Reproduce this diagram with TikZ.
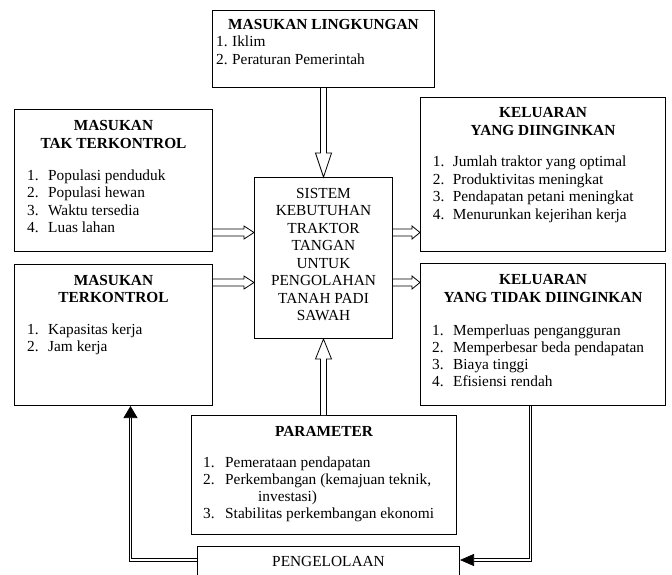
\documentclass[tikz,border=0pt]{standalone}
\usepackage{fontspec}
\setmainfont{Liberation Serif}
\usetikzlibrary{positioning, arrows.meta, calc}

% hollow block arrow: start, end, shaft half width, head half width, head length
\newcommand{\blockarrow}[5]{%
  \coordinate (ba-base) at ($(#2)!#5!(#1)$);
  \draw[hollow] ($(#1)!#3!90:(#2)$) -- ($(ba-base)!#3!90:(#2)$)
    -- ($(ba-base)!#4!90:(#2)$) -- (#2) -- ($(ba-base)!#4!-90:(#2)$)
    -- ($(ba-base)!#3!-90:(#2)$) -- ($(#1)!#3!-90:(#2)$);
}

\begin{document}
\begin{tikzpicture}[
  x=1pt, y=-1pt,
  font=\fontsize{15.35}{17.5}\selectfont,
  box/.style={draw, line width=1pt, anchor=north west, inner sep=0pt},
  head/.style={font=\fontsize{15.35}{17.5}\selectfont\bfseries, anchor=base,
               inner sep=0pt},
  item/.style={anchor=base west, inner sep=0pt},
  hollow/.style={line width=0.8pt, fill=white, line join=miter},
  fb/.style={double, double distance=1.6pt, line width=0.75pt}
]
\useasboundingbox (0,0) rectangle (672,574);
\clip (0,0) rectangle (672,574);

% Boxes
\node[box, minimum width=222, minimum height=77] (lingk) at (212,10) {};
\node[box, minimum width=198, minimum height=142] (tak) at (14,109) {};
\node[box, minimum width=198, minimum height=141] (terk) at (14,264) {};
\node[box, minimum width=138, minimum height=161] (sys) at (254,177) {};
\node[box, minimum width=245, minimum height=154] (kel1) at (420,97) {};
\node[box, minimum width=245, minimum height=142] (kel2) at (420,263) {};
\node[box, minimum width=265, minimum height=119] (param) at (191,415) {};
\node[box, minimum width=262, minimum height=40] (peng) at (197,546) {};

% Environment input
\node[head] (lingk-h) at ([yshift=-19]lingk.north) {MASUKAN LINGKUNGAN};
\foreach \txt [count=\i] in {Iklim, Peraturan Pemerintah}
  \node[item] (lingk-\i) at ([xshift=4, yshift={-36.7-17.4*(\i-1)}]lingk.north west)
    {\makebox[16pt][l]{\i.}\txt};

% Uncontrolled input
\node[head] (tak-h1) at ([yshift=-21]tak.north) {MASUKAN};
\node[head] (tak-h2) at ([yshift=-39]tak.north) {TAK TERKONTROL};
\foreach \txt [count=\i] in {Populasi penduduk, Populasi hewan,
                             Waktu tersedia, Luas lahan}
  \node[item] (tak-\i) at ([xshift=13, yshift={-71-17.5*(\i-1)}]tak.north west)
    {\makebox[21pt][l]{\i.}\txt};

% Controlled input
\node[head] (terk-h1) at ([yshift=-21]terk.north) {MASUKAN};
\node[head] (terk-h2) at ([yshift=-38.5]terk.north) {TERKONTROL};
\foreach \txt [count=\i] in {Kapasitas kerja, Jam kerja}
  \node[item] (terk-\i) at ([xshift=13, yshift={-70-17.5*(\i-1)}]terk.north west)
    {\makebox[21pt][l]{\i.}\txt};

% System
\node[align=center, inner sep=0pt, font=\fontsize{15.35}{17.43}\selectfont]
  (sys-t) at ([yshift=3.5]sys.center)
  {SISTEM\\KEBUTUHAN\\TRAKTOR\\TANGAN\\UNTUK\\PENGOLAHAN\\TANAH PADI\\SAWAH};

% Desired output
\node[head] (kel1-h1) at ([yshift=-20]kel1.north) {KELUARAN};
\node[head] (kel1-h2) at ([yshift=-38]kel1.north) {YANG DIINGINKAN};
\foreach \txt [count=\i] in {Jumlah traktor yang optimal, Produktivitas meningkat,
                             Pendapatan petani meningkat, Menurunkan kejerihan kerja}
  \node[item] (kel1-\i) at ([xshift=12.7, yshift={-69.7-17.5*(\i-1)}]kel1.north west)
    {\makebox[20pt][l]{\i.}\txt};

% Undesired output
\node[head] (kel2-h1) at ([yshift=-21]kel2.north) {KELUARAN};
\node[head] (kel2-h2) at ([yshift=-39]kel2.north) {YANG TIDAK DIINGINKAN};
\foreach \txt [count=\i] in {Memperluas pengangguran, Memperbesar beda pendapatan,
                             Biaya tinggi, Efisiensi rendah}
  \node[item] (kel2-\i) at ([xshift=12, yshift={-72-17.3*(\i-1)}]kel2.north west)
    {\makebox[21pt][l]{\i.}\txt};

% Parameter
\node[head] (param-h) at ([yshift=-21]param.north) {PARAMETER};
\node[item] (param-1) at ([xshift=12, yshift=-52]param.north west)
  {\makebox[22pt][l]{1.}Pemerataan pendapatan};
\node[item] (param-2) at ([yshift=-17]param-1.base west)
  {\makebox[22pt][l]{2.}Perkembangan (kemajuan teknik,};
\node[item] (param-2b) at ([xshift=55, yshift=-17]param-2.base west) {investasi)};
\node[item] (param-3) at ([yshift=-34]param-2.base west)
  {\makebox[22pt][l]{3.}Stabilitas perkembangan ekonomi};

% Management
\node[anchor=base, inner sep=0pt] (peng-t) at ([yshift=-20]peng.north) {PENGELOLAAN};

% Arrows
\coordinate (in1) at ([yshift=19.5]tak.south east);
\coordinate (in2) at ([yshift=-18.5]terk.north east);
\coordinate (fbrow) at ([yshift=-14]peng.north);
\blockarrow{lingk.south}{sys.north}{3pt}{8pt}{24pt}
\blockarrow{in1}{in1 -| sys.west}{3.5pt}{6.5pt}{10pt}
\blockarrow{in2}{in2 -| sys.west}{3.5pt}{6.5pt}{10pt}
\blockarrow{in1 -| sys.east}{in1 -| kel1.west}{3.5pt}{6.5pt}{8pt}
\blockarrow{in2 -| sys.east}{in2 -| kel2.west}{3.5pt}{6.5pt}{8pt}
\blockarrow{sys.south |- param.north}{sys.south}{3pt}{8pt}{20pt}
\draw[fb, -{Triangle[length=14pt, width=12pt]}]
  ([xshift=-12.5]kel2.south) |- (fbrow -| peng.east);
\draw[fb, -{Triangle[length=12pt, width=14pt]}]
  (fbrow -| peng.west) -| ([xshift=17]terk.south);

\end{tikzpicture}
\end{document}
